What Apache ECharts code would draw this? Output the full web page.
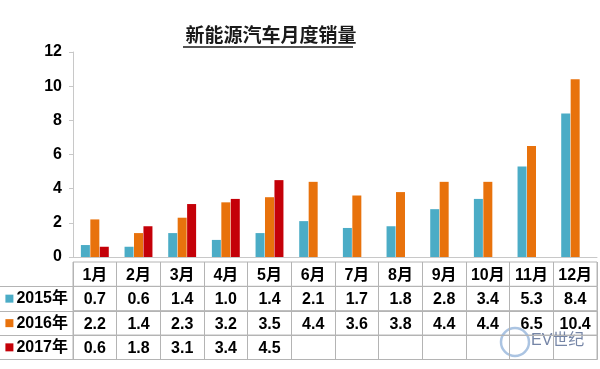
<!DOCTYPE html>
<html><head><meta charset="utf-8">
<script src="https://cdn.jsdelivr.net/npm/echarts@6/dist/echarts.min.js"></script>
<style>html,body{margin:0;padding:0;background:#fff}#c{width:600px;height:369px}</style>
</head><body><div id="c"></div>
<script>
const months = ['1月','2月','3月','4月','5月','6月','7月','8月','9月','10月','11月','12月'];
const yearLabels = ['2015年','2016年','2017年'];
const sales2015 = [0.7,0.6,1.4,1.0,1.4,2.1,1.7,1.8,2.8,3.4,5.3,8.4];
const sales2016 = [2.2,1.4,2.3,3.2,3.5,4.4,3.6,3.8,4.4,4.4,6.5,10.4];
const sales2017 = [0.6,1.8,3.1,3.4,4.5,null,null,null,null,null,null,null];
const yMin = 0, yMax = 12, yStep = 2;
const titleText = '新能源汽车月度销量';

const colors = ['#4BACC6','#E8720C','#C40008'];
const lineGray = '#b4b4b4';
const font = "'Liberation Sans','Noto Sans CJK SC',sans-serif";
const seriesData = [sales2015, sales2016, sales2017];

const rowTops = [262, 286.5, 311, 335.2];
const rowH = 24.3;
const L = 73, R = 3;

const grids = [{left: L, right: R, top: 52, height: 205}];
rowTops.forEach(t => grids.push({left: L, right: R, top: t, height: rowH, show: true, borderColor: lineGray, borderWidth: 1, backgroundColor: 'transparent'}));

const xAxes = [{
  type: 'category', gridIndex: 0, data: months,
  axisLine: {show: true, lineStyle: {color: '#c8c8c8', width: 1}},
  axisTick: {show: false}, axisLabel: {show: false}
}];
const yAxes = [{
  type: 'value', gridIndex: 0, min: yMin, max: yMax, interval: yStep,
  axisLine: {show: true, lineStyle: {color: '#c8c8c8'}},
  axisTick: {show: true, length: 4, lineStyle: {color: '#c8c8c8'}},
  splitLine: {show: false},
  axisLabel: {color: '#000', fontWeight: 'bold', fontSize: 16, fontFamily: font, margin: 11}
}];

for (let r = 0; r < 4; r++) {
  const vals = r === 0 ? null : seriesData[r - 1];
  xAxes.push({
    type: 'category', gridIndex: r + 1, data: months, position: 'bottom',
    axisLine: {show: true, lineStyle: {color: lineGray}},
    axisTick: {show: true, inside: true, length: rowH, interval: 0, lineStyle: {color: lineGray}},
    axisLabel: {
      inside: true, interval: 0, margin: rowH / 2 - 1, verticalAlign: 'middle',
      color: '#000', fontWeight: 'bold', fontSize: 16, fontFamily: font,
      formatter: (v, i) => r === 0 ? v : (vals[i] == null ? '' : vals[i].toFixed(1))
    }
  });
  if (r === 0) {
    yAxes.push({type: 'category', gridIndex: 1, data: [''], show: false});
  } else {
    yAxes.push({
      type: 'category', gridIndex: r + 1, data: [yearLabels[r - 1]],
      axisLine: {show: false},
      axisTick: {show: true, length: L, interval: 0, lineStyle: {color: lineGray}},
      axisLabel: {
        margin: 5, interval: 0,
        formatter: v => '{sq' + r + '|}{gap|}{t|' + v + '}',
        rich: {
          ['sq' + r]: {width: 8, height: 8, backgroundColor: colors[r - 1]},
          gap: {width: 3},
          t: {color: '#000', fontWeight: 'bold', fontSize: 16, fontFamily: font}
        }
      }
    });
  }
}

const series = seriesData.map((d, i) => ({
  type: 'bar', name: yearLabels[i], xAxisIndex: 0, yAxisIndex: 0,
  data: d, barWidth: 9, barGap: '5%',
  itemStyle: {color: colors[i]}
}));

const chart = echarts.init(document.getElementById('c'), null, {renderer: 'canvas'});
chart.setOption({
  animation: false,
  backgroundColor: '#fff',
  title: {
    text: titleText, left: 266, top: 20, textAlign: 'center',
    textStyle: {fontSize: 19, fontWeight: 'bold', color: '#1a1a1a', fontFamily: "'Noto Sans CJK SC',sans-serif"}
  },
  grid: grids,
  xAxis: xAxes,
  yAxis: yAxes,
  series: series,
  graphic: [
    {type: 'line', shape: {x1: 183, y1: 47, x2: 353, y2: 47}, style: {stroke: '#1a1a1a', lineWidth: 1.5}, silent: true},
    {type: 'circle', shape: {cx: 515, cy: 342, r: 14}, style: {fill: 'none', stroke: '#8fb0d8', lineWidth: 2.5, opacity: 0.75}, silent: true},
    {type: 'text', x: 531, y: 333, style: {text: 'EV世纪', fill: '#5d7096', font: '16px ' + font, opacity: 0.85}, silent: true}
  ]
});
</script></body></html>
